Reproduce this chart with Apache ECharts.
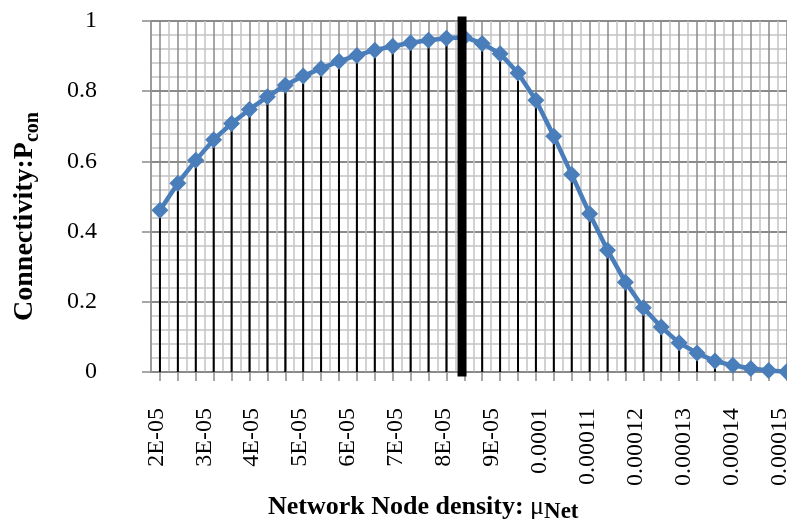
<!DOCTYPE html>
<html>
<head>
<meta charset="utf-8">
<script src="https://cdn.jsdelivr.net/npm/echarts@6/dist/echarts.min.js"></script>
<style>
html,body{margin:0;padding:0;background:#fff;}
#chart{width:787px;height:521px;}
</style>
</head>
<body>
<div id="chart"></div>
<script>
// Network node density of each plotted point
const densities = ['2.08E-05','2.45E-05','2.82E-05','3.20E-05','3.57E-05','3.94E-05','4.32E-05','4.69E-05','5.07E-05','5.44E-05',
  '5.81E-05','6.19E-05','6.56E-05','6.93E-05','7.31E-05','7.68E-05','8.05E-05','8.43E-05','8.80E-05','9.17E-05',
  '9.55E-05','9.92E-05','0.000103','0.000107','0.000110','0.000114','0.000118','0.000122','0.000125','0.000129',
  '0.000133','0.000137','0.000140','0.000144','0.000148','0.000152'];
// Connectivity P_con
const connectivity = [0.461, 0.538, 0.603, 0.662, 0.708, 0.748, 0.784, 0.817, 0.843, 0.865,
  0.885, 0.902, 0.917, 0.928, 0.938, 0.945, 0.951, 0.954, 0.936, 0.907,
  0.852, 0.774, 0.672, 0.563, 0.451, 0.347, 0.256, 0.183, 0.128, 0.083,
  0.054, 0.031, 0.019, 0.010, 0.004, 0.001];
// X tick labels
const xTickValues = [2e-5, 3e-5, 4e-5, 5e-5, 6e-5, 7e-5, 8e-5, 9e-5, 1e-4, 1.1e-4, 1.2e-4, 1.3e-4, 1.4e-4, 1.5e-4];
const xTickLabels = ['2E-05','3E-05','4E-05','5E-05','6E-05','7E-05','8E-05','9E-05','0.0001','0.00011','0.00012','0.00013','0.00014','0.00015'];
// Y ticks
const yTickLabels = ['0', '0.2', '0.4', '0.6', '0.8', '1'];
// Thick marker line position (density)
const thresholdDensity = 8.38e-5;
const densityAxisRange = [1.8894e-5, 1.53389e-4];

const SERIF = "'Liberation Serif','Times New Roman',serif";
const MAJOR = '#8a8a8a';
const MINOR = '#c3c3c3';
const BLUE = '#4a7ebb';

const chart = echarts.init(document.getElementById('chart'), null, {renderer: 'canvas'});
chart.setOption({
  animation: false,
  backgroundColor: '#fff',
  grid: {left: 151, right: -8.5, top: 21, bottom: 149, containLabel: false, outerBoundsMode: 'none'},
  xAxis: [
    { // category axis carrying the points
      type: 'category', data: densities, boundaryGap: true, position: 'bottom',
      show: false
    },
    { // band grid: light lines at band edges, dark lines and ticks at points
      type: 'value', min: 0, max: densities.length, interval: 1, position: 'bottom',
      axisLine: {show: true, onZero: false, lineStyle: {color: MAJOR, width: 1.5}},
      axisTick: {show: false},
      axisLabel: {show: false},
      splitLine: {show: true, lineStyle: {color: MINOR, width: 1.5}},
      minorTick: {show: true, splitNumber: 2, length: 9, lineStyle: {color: MAJOR, width: 1.5}},
      minorSplitLine: {show: true, lineStyle: {color: MAJOR, width: 1.5}}
    },
    { // density axis carrying the labels
      type: 'value', min: densityAxisRange[0], max: densityAxisRange[1], position: 'bottom',
      axisLine: {show: false}, axisTick: {show: false}, splitLine: {show: false},
      axisLabel: {
        show: true, rotate: 90, margin: 36, fontSize: 24, fontFamily: SERIF, color: '#000',
        customValues: xTickValues,
        formatter: function (v) {
          const k = xTickValues.findIndex(t => Math.abs(t - v) < 1e-10);
          return k >= 0 ? xTickLabels[k] : '';
        }
      },
      name: '{b|Network Node density: }{mu|\u03bc}{s|Net}',
      nameLocation: 'middle', nameGap: 110,
      nameTextStyle: {
        padding: [0, 100, 0, 0],
        rich: {
          b: {fontSize: 26, fontWeight: 'bold', fontFamily: SERIF, color: '#000', lineHeight: 34},
          mu: {fontSize: 26, fontFamily: SERIF, color: '#000', lineHeight: 34},
          s: {fontSize: 23, fontWeight: 'bold', fontFamily: SERIF, color: '#000', lineHeight: 23, verticalAlign: 'bottom'}
        }
      }
    }
  ],
  yAxis: {
    type: 'value', min: 0, max: 1, interval: 0.2,
    axisLine: {show: true, lineStyle: {color: MAJOR, width: 1.5}},
    axisTick: {show: true, length: 9, lineStyle: {color: MAJOR, width: 1.5}},
    axisLabel: {
      margin: 54, fontSize: 24, fontFamily: SERIF, color: '#000',
      formatter: function (v) { return yTickLabels[Math.round(v / 0.2)]; }
    },
    splitLine: {show: true, lineStyle: {color: MAJOR, width: 2}},
    minorTick: {show: false, splitNumber: 5},
    minorSplitLine: {show: true, lineStyle: {color: MINOR, width: 1.5}},
    name: '{m|Connectivity:P}{s|con}',
    nameLocation: 'middle', nameGap: 108,
    nameTextStyle: {
      padding: [0, 40, 0, 0],
      rich: {
        m: {fontSize: 28, fontWeight: 'bold', fontFamily: SERIF, color: '#000', lineHeight: 36},
        s: {fontSize: 20, fontWeight: 'bold', fontFamily: SERIF, color: '#000', lineHeight: 20, verticalAlign: 'bottom'}
      }
    }
  },
  series: [
    { // drop lines
      type: 'bar', xAxisIndex: 0, yAxisIndex: 0, data: connectivity,
      barWidth: 2, itemStyle: {color: '#000'}, silent: true, z: 2
    },
    {
      type: 'line', xAxisIndex: 0, yAxisIndex: 0, data: connectivity,
      symbol: 'diamond', symbolSize: 17, showAllSymbol: true,
      lineStyle: {color: BLUE, width: 4.5},
      itemStyle: {color: BLUE},
      z: 3
    },
    { // thick vertical marker
      type: 'line', xAxisIndex: 2, yAxisIndex: 0,
      data: [[thresholdDensity, 0], [thresholdDensity, 1]],
      symbol: 'none', clip: false,
      lineStyle: {color: '#000', width: 9, cap: 'square'},
      z: 4
    }
  ]
});
</script>
</body>
</html>
